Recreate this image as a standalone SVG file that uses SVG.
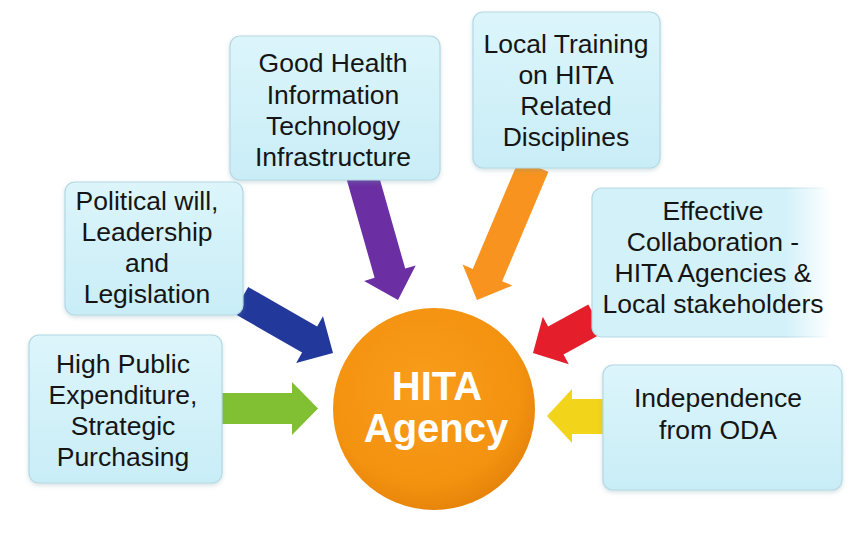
<svg xmlns="http://www.w3.org/2000/svg" width="858" height="533" viewBox="0 0 858 533">
  <defs>
    <linearGradient id="boxFill" x1="0" y1="0" x2="0" y2="1">
      <stop offset="0" stop-color="#dcf5fb"/>
      <stop offset="1" stop-color="#c9edf7"/>
    </linearGradient>
    <linearGradient id="boxFade" x1="0" y1="0" x2="1" y2="0">
      <stop offset="0" stop-color="#d2f1f9"/>
      <stop offset="0.8" stop-color="#d2f1f9"/>
      <stop offset="1" stop-color="#d2f1f9" stop-opacity="0"/>
    </linearGradient>
    <linearGradient id="edgeFade" x1="0" y1="0" x2="1" y2="0">
      <stop offset="0" stop-color="#b3d9e4"/>
      <stop offset="0.8" stop-color="#b3d9e4"/>
      <stop offset="1" stop-color="#b3d9e4" stop-opacity="0"/>
    </linearGradient>
    <radialGradient id="orb" cx="0.45" cy="0.4" r="0.6">
      <stop offset="0" stop-color="#f99d1c"/>
      <stop offset="0.8" stop-color="#f3920f"/>
      <stop offset="1" stop-color="#e6850a"/>
    </radialGradient>
    <filter id="shadow" x="-10%" y="-10%" width="120%" height="125%">
      <feDropShadow dx="0" dy="2" stdDeviation="2" flood-color="#6f9aa6" flood-opacity="0.3"/>
    </filter>
  </defs>
  <style>
    .box { fill: url(#boxFill); stroke: #b3d9e4; stroke-width: 1.2; filter: url(#shadow); }
    .lbl { font-family: "Liberation Sans", Arial, Helvetica, sans-serif; font-size: 26.5px; fill: #151515; text-anchor: middle; }
    .hub { font-family: "Liberation Sans", Arial, Helvetica, sans-serif; font-size: 40px; font-weight: bold; fill: #ffffff; text-anchor: middle; }
  </style>
  <rect width="858" height="533" fill="#ffffff"/>

  <g id="connectors">
    <polygon fill="#6b2fa3" points="345.7,176 376.3,166.8 405.2,268.6 415.7,265.4 398,300 364.1,281 374.6,277.8"/>
    <polygon fill="#f7931e" points="519,159.4 548.4,171.8 502.2,281.3 512.4,285.6 477,300 462.6,264.6 472.8,268.9"/>
    <polygon fill="#22389a" points="248.2,287 317.1,326.6 323,316.2 333,353 296.2,363 302.1,352.6 233.2,313"/>
    <polygon fill="#80c032" points="218,393 292,393 292,382 318,408.5 292,435 292,424 218,424"/>
    <polygon fill="#e41e2b" points="588.3,304.5 603.7,332.5 563.5,354.5 568.8,364.2 533,353 542.8,316.8 548.1,326.5"/>
    <polygon fill="#f2d41a" points="608,399 572,399 572,389 547,416 572,443 572,434 608,434"/>
  </g>

  <g id="node-infra">
    <rect class="box" x="230" y="36" width="210" height="144" rx="10"/>
    <text class="lbl" x="333" y="72">Good Health</text>
    <text class="lbl" x="333" y="104">Information</text>
    <text class="lbl" x="333" y="135">Technology</text>
    <text class="lbl" x="333" y="166">Infrastructure</text>
  </g>

  <g id="node-training">
    <rect class="box" x="473" y="12" width="187" height="156" rx="10"/>
    <text class="lbl" x="566" y="53">Local Training</text>
    <text class="lbl" x="566" y="84">on HITA</text>
    <text class="lbl" x="566" y="115">Related</text>
    <text class="lbl" x="566" y="146">Disciplines</text>
  </g>

  <g id="node-political">
    <rect class="box" x="65" y="182" width="178" height="133" rx="10"/>
    <text class="lbl" x="147" y="210">Political will,</text>
    <text class="lbl" x="147" y="241">Leadership</text>
    <text class="lbl" x="147" y="272">and</text>
    <text class="lbl" x="147" y="303">Legislation</text>
  </g>

  <g id="node-expenditure">
    <rect class="box" x="29" y="335" width="193" height="148" rx="10"/>
    <text class="lbl" x="123" y="373">High Public</text>
    <text class="lbl" x="123" y="404">Expenditure,</text>
    <text class="lbl" x="123" y="435">Strategic</text>
    <text class="lbl" x="123" y="466">Purchasing</text>
  </g>

  <g id="node-collaboration">
    <rect x="592" y="188" width="240" height="149" rx="10" fill="url(#boxFade)"/>
    <path d="M832,188 H602 A10,10 0 0 0 592,198 V327 A10,10 0 0 0 602,337 H832" fill="none" stroke="url(#edgeFade)" stroke-width="1.2"/>
    <text class="lbl" x="713" y="220">Effective</text>
    <text class="lbl" x="713" y="251">Collaboration -</text>
    <text class="lbl" x="713" y="282">HITA Agencies &amp;</text>
    <text class="lbl" x="713" y="313">Local stakeholders</text>
  </g>

  <g id="node-oda">
    <rect class="box" x="603" y="365" width="239" height="125" rx="10"/>
    <text class="lbl" x="718" y="407">Independence</text>
    <text class="lbl" x="718" y="439">from ODA</text>
  </g>

  <g id="node-hub">
    <circle cx="434" cy="409" r="101" fill="url(#orb)"/>
    <text class="hub" x="437" y="400">HITA</text>
    <text class="hub" x="436" y="442">Agency</text>
  </g>
</svg>
